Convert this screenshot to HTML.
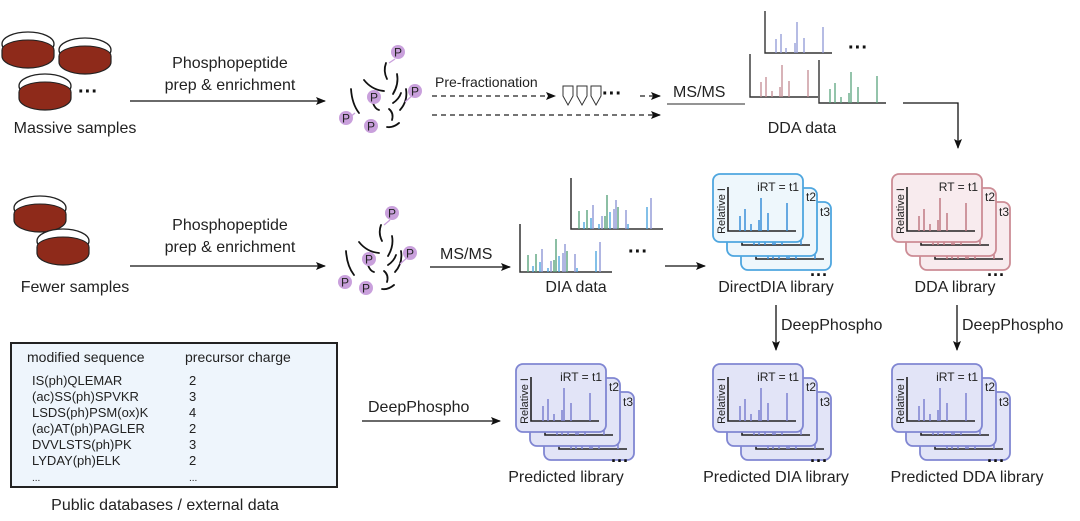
<!DOCTYPE html>
<html><head><meta charset="utf-8"><style>
body{margin:0;background:#fff}
svg{display:block;font-family:"Liberation Sans",Arial,sans-serif}
.b{--f:#eef7fc;--s:#4ea6df;--p:#3a8fd8}
.r{--f:#f8ebee;--s:#cc8c95;--p:#c07a84}
.u{--f:#e2e4f7;--s:#8086d2;--p:#7c82d0}
</style></head><body>
<svg width="1080" height="521" viewBox="0 0 1080 521" xmlns="http://www.w3.org/2000/svg">
<defs>
<marker id="ah" markerWidth="10" markerHeight="8" refX="9" refY="4" orient="auto" markerUnits="userSpaceOnUse"><path d="M0,0 L10,4 L0,8 L2,4z" fill="#111"/></marker>
<g id="card">
<rect x="0" y="0" width="90" height="68" rx="7" fill="var(--f)" stroke="var(--s)" stroke-width="1.8"/>
<path d="M15,13 V57 H83" fill="none" stroke="#222" stroke-width="1.6"/>
<g stroke="var(--p)" stroke-width="1.5">
<line x1="27" y1="57" x2="27" y2="42"/><line x1="32" y1="57" x2="32" y2="35"/><line x1="38" y1="57" x2="38" y2="50"/><line x1="46" y1="57" x2="46" y2="46"/><line x1="48" y1="57" x2="48" y2="24"/><line x1="55" y1="57" x2="55" y2="39"/><line x1="74" y1="57" x2="74" y2="29"/>
</g>
</g>
<g id="dish">
<ellipse cx="0" cy="0" rx="26" ry="12" fill="#fff" stroke="#222" stroke-width="1.3"/>
<ellipse cx="0" cy="6" rx="26" ry="10" fill="#8e2a1a" stroke="#222" stroke-width="1"/>
<path d="M-26,6 V12 A26,12 0 0 0 26,12 V6" fill="#8e2a1a" stroke="#222" stroke-width="1.2"/>
</g>
<g id="P"><circle r="7" fill="#c9a0dc"/><text y="4.5" text-anchor="middle" font-size="12" fill="#222">P</text></g>
</defs>

<use href="#dish" x="28" y="44"/><use href="#dish" x="85" y="50"/><use href="#dish" x="45" y="86"/>
<text x="78" y="98" font-size="20" font-weight="bold" fill="#111">···</text>
<text x="75" y="133" font-size="16" text-anchor="middle" fill="#222">Massive samples</text>
<text x="230" y="68" font-size="16" text-anchor="middle" fill="#222">Phosphopeptide</text>
<text x="230" y="90" font-size="16" text-anchor="middle" fill="#222">prep &amp; enrichment</text>
<line x1="130" y1="101" x2="325" y2="101" stroke="#111" stroke-width="1.3" marker-end="url(#ah)"/>

<g fill="none" stroke="#111" stroke-width="1.8" stroke-linecap="round">
<path d="M386,63 q-3,8 1,16"/><path d="M364,80 q8,10 20,11"/><path d="M397,74 q2,10 -4,20"/><path d="M351,89 q1,15 8,24"/><path d="M401,93 q-2,6 -8,10"/><path d="M406,89 q2,12 -6,21"/><path d="M373,103 q2,6 6,7"/><path d="M389,109 q5,4 3,11"/><path d="M387,127 q6,1 12,-4"/>
</g>
<line x1="395" y1="59" x2="389" y2="63" stroke="#c9a0dc" stroke-width="1.3"/>
<line x1="414" y1="94" x2="405" y2="102" stroke="#c9a0dc" stroke-width="1.3"/>
<line x1="349" y1="118" x2="355" y2="113" stroke="#c9a0dc" stroke-width="1.3"/>
<use href="#P" x="398" y="52"/><use href="#P" x="374" y="97"/><use href="#P" x="415" y="91"/><use href="#P" x="346" y="118"/><use href="#P" x="371" y="126"/>

<text x="435" y="87" font-size="14" fill="#222">Pre-fractionation</text>
<line x1="432" y1="96" x2="555" y2="96" stroke="#222" stroke-width="1.2" stroke-dasharray="5,4" marker-end="url(#ah)"/>
<line x1="432" y1="115" x2="660" y2="115" stroke="#222" stroke-width="1.2" stroke-dasharray="5,4" marker-end="url(#ah)"/>
<g fill="#fff" stroke="#333" stroke-width="1">
<path d="M563,86 h10 v10 l-5,9 l-5,-9z"/><path d="M577,86 h10 v10 l-5,9 l-5,-9z"/><path d="M591,86 h10 v10 l-5,9 l-5,-9z"/>
</g>
<text x="602" y="100" font-size="20" font-weight="bold" fill="#111">···</text>
<line x1="640" y1="96" x2="660" y2="96" stroke="#222" stroke-width="1.2" stroke-dasharray="5,4" marker-end="url(#ah)"/>
<text x="673" y="97" font-size="16" fill="#222">MS/MS</text>
<line x1="667" y1="104" x2="745" y2="104" stroke="#555" stroke-width="1.3"/>

<path d="M765,11 V53 H832" fill="none" stroke="#333" stroke-width="1.4"/>
<g stroke="#8f97d6" stroke-width="1.3"><line x1="776" y1="53" x2="776" y2="39"/><line x1="781" y1="53" x2="781" y2="34"/><line x1="786" y1="53" x2="786" y2="48"/><line x1="795" y1="53" x2="795" y2="43"/><line x1="797" y1="53" x2="797" y2="22"/><line x1="804" y1="53" x2="804" y2="38"/><line x1="823" y1="53" x2="823" y2="27"/></g>
<path d="M750,54 V97 H818" fill="none" stroke="#333" stroke-width="1.4"/>
<g stroke="#c48a92" stroke-width="1.3"><line x1="761" y1="97" x2="761" y2="82"/><line x1="766" y1="97" x2="766" y2="77"/><line x1="772" y1="97" x2="772" y2="91"/><line x1="780" y1="97" x2="780" y2="87"/><line x1="782" y1="97" x2="782" y2="65"/><line x1="789" y1="97" x2="789" y2="81"/><line x1="808" y1="97" x2="808" y2="70"/></g>
<path d="M819,60 V103 H886" fill="none" stroke="#333" stroke-width="1.4"/>
<g stroke="#5aa47e" stroke-width="1.3"><line x1="830" y1="103" x2="830" y2="89"/><line x1="835" y1="103" x2="835" y2="83"/><line x1="841" y1="103" x2="841" y2="97"/><line x1="849" y1="103" x2="849" y2="93"/><line x1="851" y1="103" x2="851" y2="72"/><line x1="858" y1="103" x2="858" y2="87"/><line x1="877" y1="103" x2="877" y2="76"/></g>
<text x="848" y="54" font-size="20" font-weight="bold" fill="#111">···</text>
<text x="802" y="133" font-size="16" text-anchor="middle" fill="#222">DDA data</text>
<path d="M903,103 H958 V148" fill="none" stroke="#111" stroke-width="1.3" marker-end="url(#ah)"/>

<use href="#dish" x="40" y="208"/><use href="#dish" x="63" y="241"/>
<text x="75" y="292" font-size="16" text-anchor="middle" fill="#222">Fewer samples</text>
<text x="230" y="230" font-size="16" text-anchor="middle" fill="#222">Phosphopeptide</text>
<text x="230" y="252" font-size="16" text-anchor="middle" fill="#222">prep &amp; enrichment</text>
<line x1="130" y1="266" x2="325" y2="266" stroke="#111" stroke-width="1.3" marker-end="url(#ah)"/>

<g fill="none" stroke="#111" stroke-width="1.8" stroke-linecap="round">
<path d="M381,225 q-3,8 1,16"/><path d="M359,242 q8,10 20,11"/><path d="M392,236 q2,10 -4,20"/><path d="M346,251 q1,15 8,24"/><path d="M396,255 q-2,6 -8,10"/><path d="M401,251 q2,12 -6,21"/><path d="M368,265 q2,6 6,7"/><path d="M384,271 q5,4 3,11"/><path d="M382,289 q6,1 12,-4"/>
</g>
<line x1="390" y1="220" x2="384" y2="225" stroke="#c9a0dc" stroke-width="1.3"/>
<line x1="409" y1="256" x2="400" y2="264" stroke="#c9a0dc" stroke-width="1.3"/>
<use href="#P" x="392" y="213"/><use href="#P" x="369" y="259"/><use href="#P" x="410" y="253"/><use href="#P" x="345" y="282"/><use href="#P" x="366" y="288"/>

<text x="440" y="259" font-size="16" fill="#222">MS/MS</text>
<line x1="430" y1="267" x2="510" y2="267" stroke="#111" stroke-width="1.3" marker-end="url(#ah)"/>
<path d="M571,178 V229 H663" fill="none" stroke="#333" stroke-width="1.5"/>
<g stroke-width="1.4"><line x1="579" y1="229" x2="579" y2="211" stroke="#5aa47e"/><line x1="584" y1="229" x2="584" y2="222" stroke="#4ea6df"/><line x1="587" y1="229" x2="587" y2="210" stroke="#5aa47e"/><line x1="591" y1="229" x2="591" y2="218" stroke="#4ea6df"/><line x1="593" y1="229" x2="593" y2="205" stroke="#8f97d6"/><line x1="599" y1="229" x2="599" y2="224" stroke="#4ea6df"/><line x1="602" y1="229" x2="602" y2="216" stroke="#8f97d6"/><line x1="605" y1="229" x2="605" y2="216" stroke="#5aa47e"/><line x1="607" y1="229" x2="607" y2="195" stroke="#5aa47e"/><line x1="610" y1="229" x2="610" y2="212" stroke="#4ea6df"/><line x1="614" y1="229" x2="614" y2="209" stroke="#8f97d6"/><line x1="616" y1="229" x2="616" y2="200" stroke="#8f97d6"/><line x1="618" y1="229" x2="618" y2="207" stroke="#5aa47e"/><line x1="626" y1="229" x2="626" y2="210" stroke="#8f97d6"/><line x1="628" y1="229" x2="628" y2="224" stroke="#4ea6df"/><line x1="647" y1="229" x2="647" y2="207" stroke="#4ea6df"/><line x1="651" y1="229" x2="651" y2="198" stroke="#8f97d6"/></g>
<path d="M520,224 V272 H612" fill="none" stroke="#333" stroke-width="1.5"/>
<g stroke-width="1.4"><line x1="528" y1="272" x2="528" y2="255" stroke="#5aa47e"/><line x1="533" y1="272" x2="533" y2="266" stroke="#4ea6df"/><line x1="536" y1="272" x2="536" y2="254" stroke="#5aa47e"/><line x1="540" y1="272" x2="540" y2="262" stroke="#4ea6df"/><line x1="542" y1="272" x2="542" y2="249" stroke="#8f97d6"/><line x1="548" y1="272" x2="548" y2="268" stroke="#4ea6df"/><line x1="551" y1="272" x2="551" y2="261" stroke="#8f97d6"/><line x1="554" y1="272" x2="554" y2="260" stroke="#5aa47e"/><line x1="556" y1="272" x2="556" y2="239" stroke="#5aa47e"/><line x1="559" y1="272" x2="559" y2="256" stroke="#4ea6df"/><line x1="563" y1="272" x2="563" y2="253" stroke="#8f97d6"/><line x1="565" y1="272" x2="565" y2="244" stroke="#8f97d6"/><line x1="567" y1="272" x2="567" y2="251" stroke="#5aa47e"/><line x1="575" y1="272" x2="575" y2="254" stroke="#8f97d6"/><line x1="577" y1="272" x2="577" y2="268" stroke="#4ea6df"/><line x1="596" y1="272" x2="596" y2="251" stroke="#4ea6df"/><line x1="600" y1="272" x2="600" y2="242" stroke="#8f97d6"/></g>
<text x="628" y="258" font-size="20" font-weight="bold" fill="#111">···</text>
<text x="576" y="292" font-size="16" text-anchor="middle" fill="#222">DIA data</text>
<line x1="665" y1="266" x2="705" y2="266" stroke="#111" stroke-width="1.3" marker-end="url(#ah)"/>

<g class="b" transform="translate(713,174)">
<use href="#card" x="28" y="28"/>
<use href="#card" x="14" y="14"/>
<use href="#card"/><text x="86" y="17" font-size="12" text-anchor="end" fill="#222">iRT = t1</text>
<text x="93" y="27" font-size="12" fill="#222">t2</text><text x="107" y="42" font-size="12" fill="#222">t3</text>
<text transform="translate(12,37) rotate(-90)" font-size="11" text-anchor="middle" fill="#222">Relative I</text>
<text x="97" y="107" font-size="18" font-weight="bold" fill="#111">···</text>
</g>
<text x="776" y="292" font-size="16" text-anchor="middle" fill="#222">DirectDIA library</text>

<g class="r" transform="translate(892,174)">
<use href="#card" x="28" y="28"/>
<use href="#card" x="14" y="14"/>
<use href="#card"/><text x="86" y="17" font-size="12" text-anchor="end" fill="#222">RT = t1</text>
<text x="93" y="27" font-size="12" fill="#222">t2</text><text x="107" y="42" font-size="12" fill="#222">t3</text>
<text transform="translate(12,37) rotate(-90)" font-size="11" text-anchor="middle" fill="#222">Relative I</text>
<text x="95" y="107" font-size="18" font-weight="bold" fill="#111">···</text>
</g>
<text x="955" y="292" font-size="16" text-anchor="middle" fill="#222">DDA library</text>

<line x1="776" y1="305" x2="776" y2="350" stroke="#111" stroke-width="1.3" marker-end="url(#ah)"/>
<text x="781" y="330" font-size="16" fill="#222">DeepPhospho</text>
<line x1="957" y1="305" x2="957" y2="350" stroke="#111" stroke-width="1.3" marker-end="url(#ah)"/>
<text x="962" y="330" font-size="16" fill="#222">DeepPhospho</text>

<rect x="11" y="343" width="326" height="144" fill="#eef5fc" stroke="#222" stroke-width="2"/>
<g font-size="14" fill="#222"><text x="27" y="362">modified sequence</text><text x="185" y="362">precursor charge</text></g>
<g font-size="13" fill="#222">
<text x="32" y="385">IS(ph)QLEMAR</text><text x="189" y="385">2</text>
<text x="32" y="401">(ac)SS(ph)SPVKR</text><text x="189" y="401">3</text>
<text x="32" y="417">LSDS(ph)PSM(ox)K</text><text x="189" y="417">4</text>
<text x="32" y="433">(ac)AT(ph)PAGLER</text><text x="189" y="433">2</text>
<text x="32" y="449">DVVLSTS(ph)PK</text><text x="189" y="449">3</text>
<text x="32" y="465">LYDAY(ph)ELK</text><text x="189" y="465">2</text>
<text x="32" y="481" font-size="10">...</text><text x="189" y="481" font-size="10">...</text>
</g>
<text x="165" y="510" font-size="16" text-anchor="middle" fill="#222">Public databases / external data</text>

<text x="368" y="412" font-size="16" fill="#222">DeepPhospho</text>
<line x1="362" y1="421" x2="500" y2="421" stroke="#111" stroke-width="1.3" marker-end="url(#ah)"/>

<g class="u" transform="translate(516,364)">
<use href="#card" x="28" y="28"/>
<use href="#card" x="14" y="14"/>
<use href="#card"/><text x="86" y="17" font-size="12" text-anchor="end" fill="#222">iRT = t1</text>
<text x="93" y="27" font-size="12" fill="#222">t2</text><text x="107" y="42" font-size="12" fill="#222">t3</text>
<text transform="translate(12,37) rotate(-90)" font-size="11" text-anchor="middle" fill="#222">Relative I</text>
<text x="95" y="103" font-size="18" font-weight="bold" fill="#111">···</text>
</g>
<text x="566" y="482" font-size="16" text-anchor="middle" fill="#222">Predicted library</text>

<g class="u" transform="translate(713,364)">
<use href="#card" x="28" y="28"/>
<use href="#card" x="14" y="14"/>
<use href="#card"/><text x="86" y="17" font-size="12" text-anchor="end" fill="#222">iRT = t1</text>
<text x="93" y="27" font-size="12" fill="#222">t2</text><text x="107" y="42" font-size="12" fill="#222">t3</text>
<text transform="translate(12,37) rotate(-90)" font-size="11" text-anchor="middle" fill="#222">Relative I</text>
<text x="97" y="103" font-size="18" font-weight="bold" fill="#111">···</text>
</g>
<text x="776" y="482" font-size="16" text-anchor="middle" fill="#222">Predicted DIA library</text>

<g class="u" transform="translate(892,364)">
<use href="#card" x="28" y="28"/>
<use href="#card" x="14" y="14"/>
<use href="#card"/><text x="86" y="17" font-size="12" text-anchor="end" fill="#222">iRT = t1</text>
<text x="93" y="27" font-size="12" fill="#222">t2</text><text x="107" y="42" font-size="12" fill="#222">t3</text>
<text transform="translate(12,37) rotate(-90)" font-size="11" text-anchor="middle" fill="#222">Relative I</text>
<text x="95" y="103" font-size="18" font-weight="bold" fill="#111">···</text>
</g>
<text x="967" y="482" font-size="16" text-anchor="middle" fill="#222">Predicted DDA library</text>
</svg>
</body></html>
